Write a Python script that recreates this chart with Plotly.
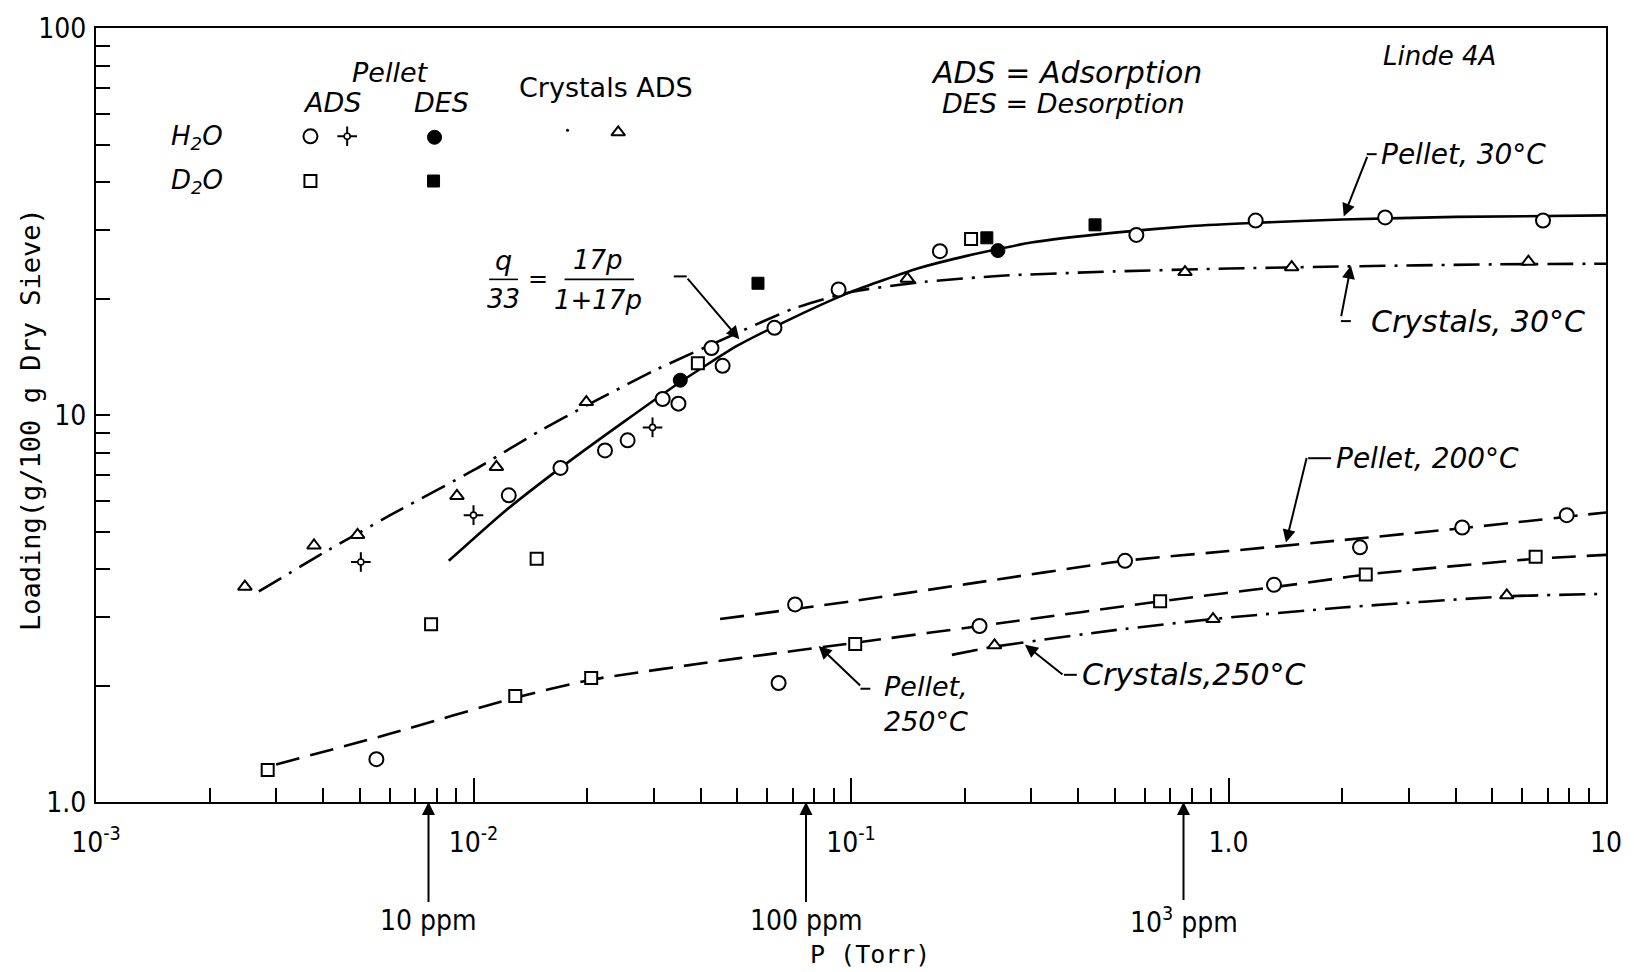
import math
import plotly.graph_objects as go

# ---------------- measured points (P in Torr, loading in g/100 g dry sieve) ----------------
# Pellet, H2O adsorption (open circles)
pel30_h2o_p = [0.0124, 0.0170, 0.0223, 0.0256, 0.0317, 0.0349, 0.0427, 0.0457, 0.0627,
               0.0927, 0.172, 0.570, 1.18, 2.60, 6.81]
pel30_h2o_q = [6.2, 7.3, 8.1, 8.6, 11.0, 10.7, 14.9, 13.4, 16.8, 21.1, 26.5, 29.2, 31.8, 32.4, 31.8]
pel200_h2o_p = [0.0711, 0.532, 2.23, 4.16, 7.87]
pel200_h2o_q = [3.24, 4.20, 4.55, 5.12, 5.51]
pel250_h2o_p = [0.00553, 0.0643, 0.219, 1.32]
pel250_h2o_q = [1.29, 2.03, 2.85, 3.64]
# Pellet, H2O adsorption, second run (four-point stars)
pel_h2o_star_p = [0.00503, 0.0100, 0.0298]
pel_h2o_star_q = [4.17, 5.51, 9.29]
# Pellet, H2O desorption (filled circles)
pel_h2o_des_p = [0.0353, 0.245]
pel_h2o_des_q = [12.3, 26.6]
# Pellet, D2O adsorption (open squares)
pel_d2o_p = [0.00285, 0.00772, 0.0129, 0.0147, 0.0205, 0.0393, 0.1026, 0.208, 0.659, 2.31, 6.51]
pel_d2o_q = [1.21, 2.88, 1.88, 4.25, 2.09, 13.6, 2.56, 28.5, 3.30, 3.87, 4.30]
# Pellet, D2O desorption (filled squares)
pel_d2o_des_p = [0.0567, 0.229, 0.443]
pel_d2o_des_q = [21.9, 28.7, 31.0]
# Crystals, H2O adsorption (open triangles)
cry30_p = [0.00248, 0.00378, 0.00493, 0.00904, 0.0115, 0.0199, 0.141, 0.767, 1.47, 6.23]
cry30_q = [3.60, 4.60, 4.90, 6.18, 7.34, 10.8, 22.5, 23.4, 24.1, 24.9]
cry250_p = [0.240, 0.910, 5.46]
cry250_q = [2.54, 2.97, 3.42]

# ---------------- isotherm curves ----------------
curve_pel30_p = [0.0086, 0.012, 0.017, 0.025, 0.035, 0.05, 0.07, 0.1, 0.15, 0.2, 0.3, 0.5,
                 0.8, 1.2, 2, 4, 10]
curve_pel30_q = [4.2, 5.6, 7.3, 9.6, 12.1, 15.1, 17.8, 20.8, 23.9, 25.7, 27.9, 29.6,
                 30.8, 31.4, 32.0, 32.5, 32.8]
curve_cry30_p = [0.0027, 0.004, 0.006, 0.01, 0.015, 0.02, 0.03, 0.05, 0.07, 0.1, 0.15,
                 0.25, 0.5, 1, 2, 5, 10]
curve_cry30_q = [3.5, 4.4, 5.5, 7.2, 9.1, 10.6, 13.0, 16.3, 18.8, 20.8, 22.0,
                 22.9, 23.5, 23.9, 24.2, 24.5, 24.6]
curve_pel200_p = [0.045, 0.1, 0.2, 0.53, 1, 2, 4.16, 10]
curve_pel200_q = [2.97, 3.3, 3.65, 4.2, 4.45, 4.75, 5.1, 5.6]
curve_pel250_p = [0.003, 0.006, 0.0129, 0.0205, 0.05, 0.103, 0.25, 0.66, 1.5, 2.31, 6.5, 10]
curve_pel250_q = [1.25, 1.5, 1.86, 2.07, 2.35, 2.58, 2.9, 3.3, 3.65, 3.87, 4.25, 4.35]
curve_cry250_p = [0.185, 0.24, 0.5, 0.91, 2, 5.46, 10]
curve_cry250_q = [2.4, 2.52, 2.78, 2.97, 3.18, 3.4, 3.45]

# ---------------- axis ticks ----------------
x_major = [1e-3, 1e-2, 1e-1, 1, 10]
x_major_text = ["10<sup>-3</sup>", "10<sup>-2</sup>", "10<sup>-1</sup>", "1.0", "10"]
y_major = [1, 10, 100]
y_major_text = ["1.0", "10", "100"]
ppm_marks = [10, 100, 1000]
ppm_text = ["10 ppm", "100 ppm", "10<sup>3</sup> ppm"]
TORR_PER_PPM = 760e-6

x_minor = [m * 10.0 ** e for e in range(-3, 1) for m in range(2, 10)]
y_minor = [m * 10.0 ** e for e in range(0, 2) for m in range(2, 10)]

W, H = 1634, 972
L, R, T, B = 96, 1617, 23, 802

NARROW = "Liberation Sans Narrow, DejaVu Sans Condensed, DejaVu Sans, sans-serif"
LETTER = "DejaVu Sans, sans-serif"
MONO = "DejaVu Sans Mono, Liberation Mono, monospace"
INK = "black"


def paper(xp, yp):
    """Pixel position on the page -> paper fraction of the plot area."""
    return (xp - L) / (R - L), (B - yp) / (B - T)


fig = go.Figure()

# curves
curve_specs = [
    (curve_pel30_p, curve_pel30_q, "solid", "Pellet, 30°C"),
    (curve_cry30_p, curve_cry30_q, "26px,9px,3px,9px", "Crystals, 30°C"),
    (curve_pel200_p, curve_pel200_q, "24px,11px", "Pellet, 200°C"),
    (curve_pel250_p, curve_pel250_q, "24px,11px", "Pellet, 250°C"),
    (curve_cry250_p, curve_cry250_q, "26px,9px,3px,9px", "Crystals, 250°C"),
]
for px_, qy_, dash, name in curve_specs:
    fig.add_trace(go.Scatter(x=px_, y=qy_, mode="lines", name=name,
                             line=dict(color=INK, width=2.6, dash=dash, shape="spline", smoothing=0.5),
                             hoverinfo="skip", showlegend=False))

open_circle = dict(symbol="circle", size=14, color="white", line=dict(color=INK, width=2))
open_square = dict(symbol="square", size=12, color="white", line=dict(color=INK, width=2))
open_tri = dict(symbol="triangle-up", size=12, color="white", line=dict(color=INK, width=2))
star_arms = dict(symbol="cross-thin", size=14, color=INK, line=dict(color=INK, width=2))
star_hub = dict(symbol="circle", size=6, color="white", line=dict(color=INK, width=1.6))
fill_circle = dict(symbol="circle", size=14, color=INK, line=dict(color=INK, width=1))
fill_square = dict(symbol="square", size=12, color=INK, line=dict(color=INK, width=1))

point_specs = [
    (pel30_h2o_p, pel30_h2o_q, [open_circle]),
    (pel200_h2o_p, pel200_h2o_q, [open_circle]),
    (pel250_h2o_p, pel250_h2o_q, [open_circle]),
    (pel_h2o_star_p, pel_h2o_star_q, [star_arms, star_hub]),
    (pel_d2o_p, pel_d2o_q, [open_square]),
    (cry30_p, cry30_q, [open_tri]),
    (cry250_p, cry250_q, [open_tri]),
    (pel_h2o_des_p, pel_h2o_des_q, [fill_circle]),
    (pel_d2o_des_p, pel_d2o_des_q, [fill_square]),
]
for px_, qy_, layers in point_specs:
    for mk in layers:
        fig.add_trace(go.Scatter(x=px_, y=qy_, mode="markers", marker=mk, cliponaxis=False,
                                 hoverinfo="skip", showlegend=False))

# symbol key (drawn on a unit overlay axis so positions are layout fractions)
key_items = [
    ((312, 132), [open_circle]), ((349, 132), [star_arms, star_hub]), ((437, 133), [fill_circle]),
    ((571, 126), [dict(symbol="circle", size=3, color=INK)]), ((622, 128), [open_tri]),
    ((312, 177), [open_square]), ((436, 177), [fill_square]),
]
for (kx, ky), layers in key_items:
    fx, fy = paper(kx, ky)
    for mk in layers:
        fig.add_trace(go.Scatter(x=[fx], y=[fy], xaxis="x2", yaxis="y2", mode="markers",
                                 marker=mk, hoverinfo="skip", showlegend=False, cliponaxis=False))


def label(text, xp, yp, size=26, anchor="center", font=LETTER, italic=True, angle=0,
          align="center"):
    fx, fy = paper(xp, yp)
    fig.add_annotation(xref="paper", yref="paper", x=fx, y=fy,
                       text=f"<i>{text}</i>" if italic else text, showarrow=False,
                       xanchor=anchor, yanchor="middle", textangle=angle, align=align,
                       font=dict(family=font, size=size, color=INK))


def rule(x0, y0, x1, y1, width=2):
    a0, b0 = paper(x0, y0)
    a1, b1 = paper(x1, y1)
    fig.add_shape(type="line", xref="paper", yref="paper", x0=a0, y0=b0, x1=a1, y1=b1,
                  line=dict(color=INK, width=width))


def pointer(p, q, dx, dy):
    """Arrow ending on a curve at (p, q); tail offset in pixels."""
    fig.add_annotation(x=math.log10(p), y=math.log10(q), xref="x", yref="y", text="",
                       showarrow=True, ax=dx, ay=dy, arrowhead=2, arrowsize=1.3,
                       arrowwidth=2, arrowcolor=INK, standoff=0)


# key headings
label("Pellet", 393, 68, size=27)
label("ADS", 334, 98, size=27)
label("DES", 444, 98, size=27)
label("Crystals ADS", 610, 83, size=27, italic=False)
label("H<sub>2</sub>O", 198, 133, size=26)
label("D<sub>2</sub>O", 198, 177, size=26)
label("ADS = Adsorption", 1074, 68, size=30)
label("DES = Desorption", 1071, 99, size=27)
label("Linde 4A", 1449, 51, size=26)

# curve labels with leader arrows
label("Pellet, 30°C", 1388, 150, size=28, anchor="left")
rule(1376, 150, 1386, 150)
pointer(2.02, 32.6, 24, -61)

label("Crystals, 30°C", 1378, 318, size=30, anchor="left")
rule(1350, 318, 1360, 318)
pointer(2.11, 24.3, -10, 52)

label("Pellet, 200°C", 1343, 456, size=28, anchor="left")
rule(1317, 456, 1340, 456)
pointer(1.42, 4.68, 21, -86)

label("Crystals,250°C", 1087, 674, size=30, anchor="left")
rule(1071, 674, 1084, 674)
pointer(0.289, 2.55, 39, 31)

label("Pellet,<br>250°C", 888, 703, size=27, anchor="left", align="left")
rule(866, 688, 876, 688)
pointer(0.0821, 2.53, 43, 41)

# Langmuir fit expression
label("q", 506, 257, size=27)
rule(492, 276, 521, 276, width=1.6)
label("33", 506, 296, size=26)
label("=", 541, 276, size=24, italic=False)
label("17p", 602, 257, size=26)
rule(568, 276, 638, 276, width=1.6)
label("1+17p", 602, 297, size=26)
rule(678, 273, 691, 273)
pointer(0.0506, 15.7, -53, -62)

# concentration markers under the pressure axis
for ppm, txt in zip(ppm_marks, ppm_text):
    fig.add_annotation(x=math.log10(ppm * TORR_PER_PPM), y=0, xref="x", yref="paper",
                       text=txt, showarrow=True, ax=0, ay=118, arrowhead=2, arrowsize=1.3,
                       arrowwidth=2, arrowcolor=INK, standoff=0,
                       font=dict(family=NARROW, size=28, color=INK))

label("P (Torr)", 876, 955, size=25, font=MONO, italic=False)
label("Loading(g/100 g Dry Sieve)", 30, 417, size=27, font=MONO, italic=False, angle=-90)

axis_common = dict(showline=True, linecolor=INK, linewidth=2.2, mirror=True, showgrid=False,
                   zeroline=False, ticks="inside", tickcolor=INK, tickwidth=2)
fig.update_layout(
    width=W, height=H, autosize=False,
    margin=dict(l=L, r=W - R, t=T, b=H - B),
    paper_bgcolor="white", plot_bgcolor="white", showlegend=False,
    xaxis=dict(type="log", range=[-3, 1], tickvals=x_major, ticktext=x_major_text,
               ticklen=24, ticklabelstandoff=14,
               tickfont=dict(family=NARROW, size=28, color=INK),
               minor=dict(tickvals=x_minor, ticks="inside", ticklen=14, tickwidth=2, tickcolor=INK),
               **axis_common),
    yaxis=dict(type="log", range=[0, 2], tickvals=y_major, ticktext=y_major_text,
               ticklen=14, ticklabelstandoff=2,
               tickfont=dict(family=NARROW, size=28, color=INK),
               minor=dict(tickvals=y_minor, ticks="inside", ticklen=14, tickwidth=2, tickcolor=INK),
               **axis_common),
    xaxis2=dict(overlaying="x", anchor="y2", range=[0, 1], visible=False, fixedrange=True),
    yaxis2=dict(overlaying="y", anchor="x2", range=[0, 1], visible=False, fixedrange=True),
)

fig.write_html("out.html")
